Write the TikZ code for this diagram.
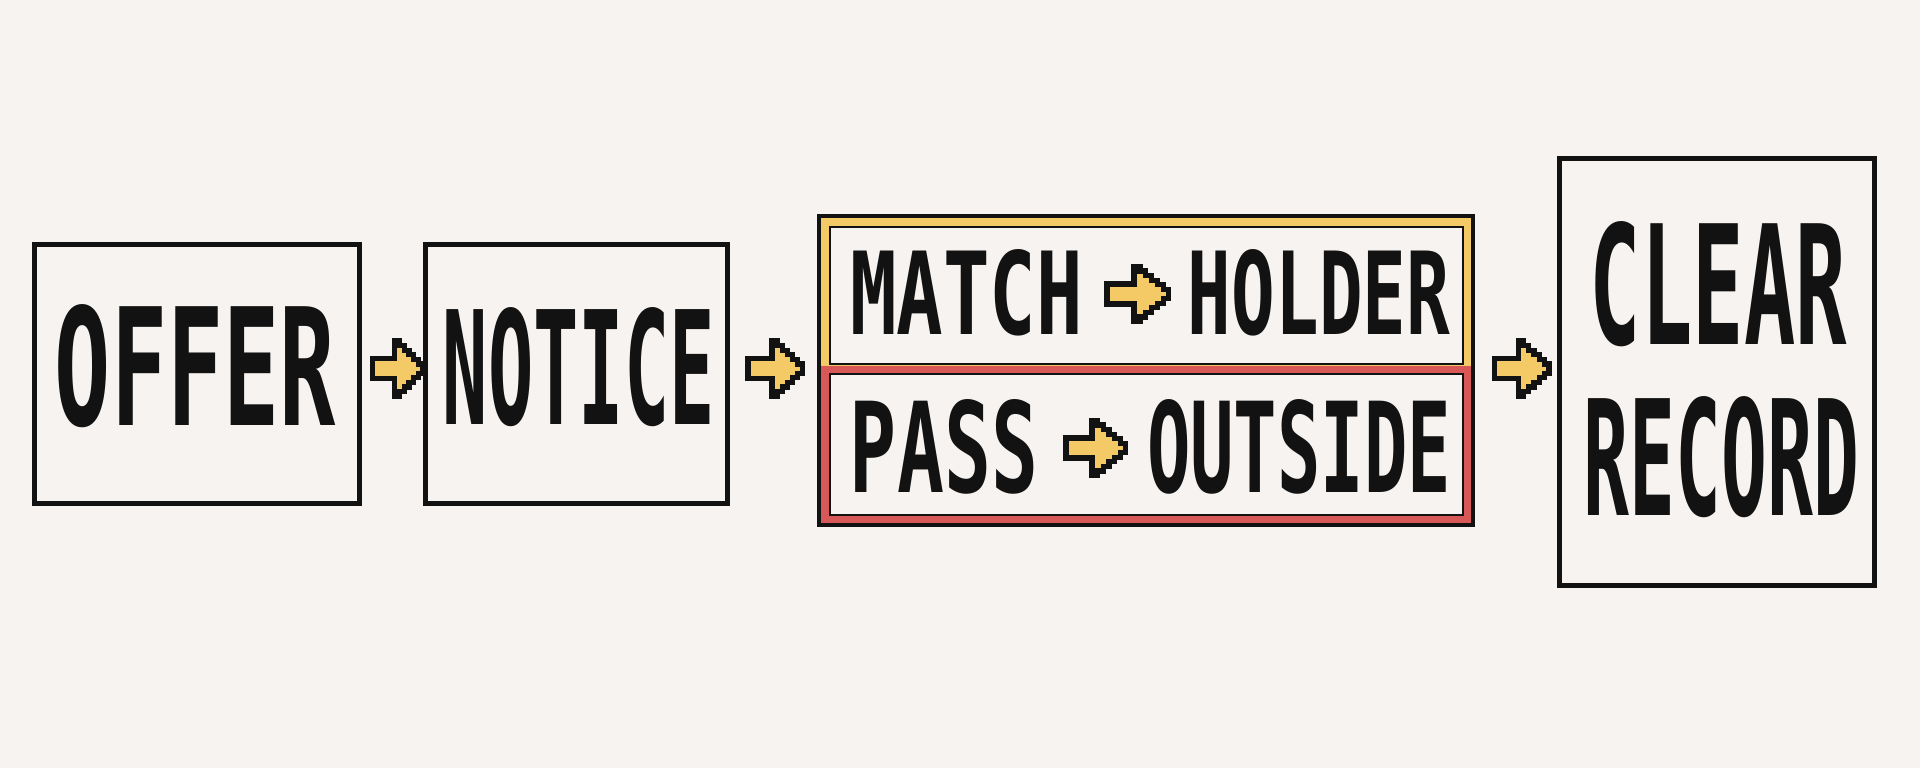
\documentclass[tikz,border=0pt]{standalone}
\usepackage{fontspec}
\usepackage{graphicx}
\newfontfamily\pixfont{DejaVu Sans Mono}
\usetikzlibrary{calc}
\definecolor{bgc}{HTML}{F6F3F0}
\definecolor{ylw}{HTML}{F4CA66}
\definecolor{redc}{HTML}{D85858}
\definecolor{ink}{HTML}{121212}
\newcommand{\pxt}[3]{\resizebox{\dimexpr #1pt/2\relax}{\dimexpr #2pt/2\relax}{\pixfont\bfseries #3}}
\begin{document}
\begin{tikzpicture}[x=0.5pt,y=-0.5pt,
  box/.style={draw=ink,line width=2.5pt,fill=bgc,inner sep=0pt},
  inbox/.style={draw=ink,line width=1pt,fill=bgc,inner sep=0pt},
  groupbox/.style={draw=ink,line width=2pt,inner sep=0pt},
  lbl/.style={inner sep=0pt,text=ink},
  arrowbody/.style={draw=ink,fill=ylw,line width=2.6pt,line join=miter},
  pixarrow/.pic={
    \draw[arrowbody] (0,-10) -- (24,-10) -- (24,-27.5) -- (29.2,-27.5) -- (29.2,-23) -- (34.3,-23) -- (34.3,-18.4) -- (39.5,-18.4) -- (39.5,-13.8) -- (44.7,-13.8) -- (44.7,-9.2) -- (49.8,-9.2) -- (49.8,-4.6) -- (54.5,-4.6) -- (54.5,4.6) -- (49.8,4.6) -- (49.8,9.2) -- (44.7,9.2) -- (44.7,13.8) -- (39.5,13.8) -- (39.5,18.4) -- (34.3,18.4) -- (34.3,23) -- (29.2,23) -- (29.2,27.5) -- (24,27.5) -- (24,10) -- (0,10) -- cycle;
  }]
\useasboundingbox (0,0) rectangle (1920,768);
\fill[bgc] (0,0) rectangle (1920,768);

% boxes
\node[box,minimum width=162.75pt,minimum height=129.5pt] (offer) at (197,374) {};
\node[box,minimum width=151pt,minimum height=129.5pt] (notice) at (576.5,374) {};
\node[box,minimum width=157.5pt,minimum height=213.5pt] (clear) at (1717,372) {};

% grouped outcome
\fill[ylw] (817,214) rectangle (1475,366);
\fill[redc] (817,366) rectangle (1475,527);
\node[groupbox,minimum width=327pt,minimum height=154.5pt] (group) at (1146,370.5) {};
\node[inbox,minimum width=316.5pt,minimum height=68.5pt] (top) at (1146.5,295.5) {};
\node[inbox,minimum width=316.5pt,minimum height=70.5pt] (bottom) at (1146.5,444.5) {};

% labels
\node[lbl] (offert) at (195.5,366.5) {\pxt{281}{121}{OFFER}};
\node[lbl] (noticet) at (579,367.5) {\pxt{272}{117}{NOTICE}};
\node[lbl] (match) at (966.5,292.5) {\pxt{233}{85}{MATCH}};
\node[lbl] (holder) at (1319,292.5) {\pxt{262}{85}{HOLDER}};
\node[lbl] (pass) at (944,446.5) {\pxt{188}{93}{PASS}};
\node[lbl] (outside) at (1299,446.5) {\pxt{304}{93}{OUTSIDE}};
\node[lbl] (cleart) at (1718.5,284.5) {\pxt{257}{123}{CLEAR}};
\node[lbl] (record) at (1721.5,457.5) {\pxt{275}{119}{RECORD}};

% arrows
\path (offer.east) ++(10,-5.5) pic[xscale=0.93] {pixarrow};
\path (notice.east) ++(18,-5.5) pic {pixarrow};
\path (group.east) ++(19.5,-2) pic {pixarrow};
\path (match.east) ++(23.5,1.5) pic[xscale=1.13] {pixarrow};
\path (pass.east) ++(27.5,1.5) pic[xscale=1.09] {pixarrow};
\end{tikzpicture}
\end{document}
